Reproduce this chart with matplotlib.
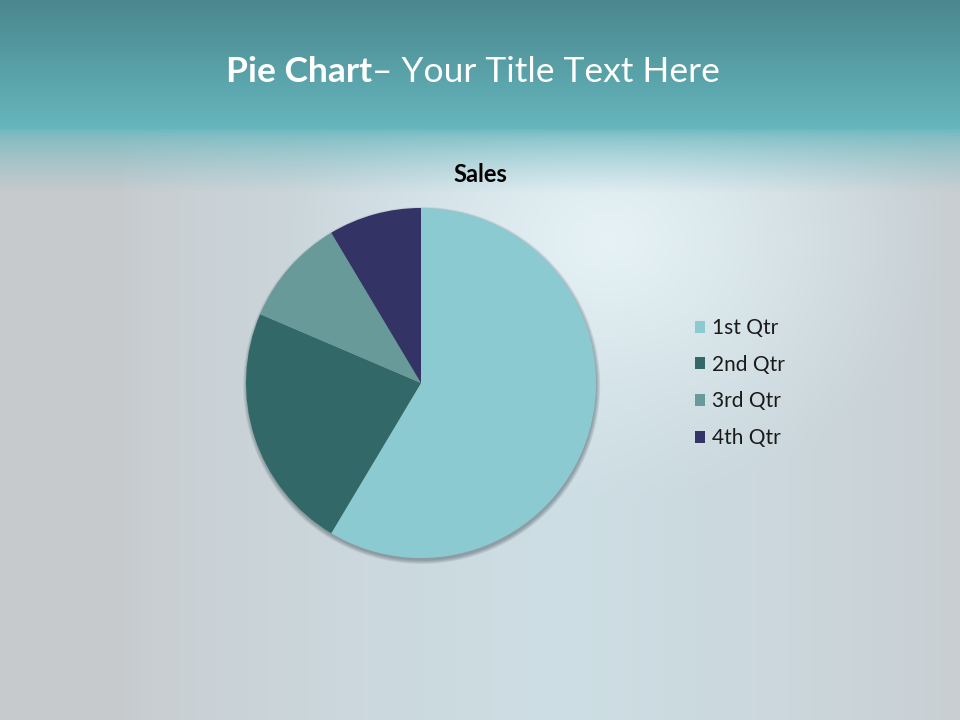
import matplotlib
matplotlib.use('Agg')
import matplotlib.pyplot as plt
import numpy as np
from matplotlib.patches import Circle

# data
labels = ['1st Qtr', '2nd Qtr', '3rd Qtr', '4th Qtr']
sales = [8.2, 3.2, 1.4, 1.2]
colors = ['#8ccad1', '#326868', '#679a99', '#343366']

W, H = 960, 720
plt.rcParams['font.family'] = ['Lato', 'DejaVu Sans']

fig = plt.figure(figsize=(W / 100, H / 100), dpi=100)

# background: teal header band + light bluish wash in the middle
yy, xx = np.mgrid[0:H, 0:W].astype(float)
top0 = np.array([74, 135, 142]) / 255
top1 = np.array([102, 182, 189]) / 255
gray = np.array([199, 202, 205]) / 255
blue = np.array([205, 222, 228]) / 255
glow = np.array([230, 242, 246]) / 255
hx = np.clip(1 - np.abs(xx - 560) / 440, 0, 1) ** 0.6
body = gray * (1 - hx[..., None]) + blue * hx[..., None]
g = np.sqrt(((xx - 610) / 330) ** 2 + ((yy - 240) / 260) ** 2)
gw = (np.clip(1 - g, 0, 1) ** 1.2)[..., None]
body = body * (1 - gw) + glow * gw
t = np.clip(yy / 128, 0, 1)[..., None]
band = top0 * (1 - t) + top1 * t
mix = np.clip((yy - 128) / 65, 0, 1)[..., None] ** 0.6
img = band * (1 - mix) + body * mix
bg = fig.add_axes([0, 0, 1, 1])
bg.imshow(img, aspect='auto', extent=[0, W, H, 0])
bg.set_xlim(0, W)
bg.set_ylim(H, 0)
bg.axis('off')

# title in two weights
t1 = fig.text(226 / W, 1 - 82 / H, 'Pie Chart', color='white', fontsize=25.5,
              fontweight='bold', ha='left', va='baseline')
fig.canvas.draw()
bb = t1.get_window_extent()
fig.text(bb.x1 / W, 1 - 82 / H, '\u2013 Your Title Text Here', color='white',
         fontsize=25.5, ha='left', va='baseline')

fig.text(480 / W, 1 - 175 / H, 'Sales', fontsize=17, fontweight='bold',
         color='black', ha='center', va='center')

# pie
cx, cy, r = 421, 383, 175
ax = fig.add_axes([(cx - r) / W, 1 - (cy + r) / H, 2 * r / W, 2 * r / H])
for k in range(5):
    ax.add_patch(Circle((0.004, -0.014), 1.0 + 0.005 * k, color='#2a3a44',
                        alpha=0.09, lw=0, zorder=0, clip_on=False))
wedges, _ = ax.pie(sales, colors=colors, startangle=90, counterclock=False,
                   wedgeprops=dict(linewidth=0))
ax.set_xlim(-1, 1)
ax.set_ylim(-1, 1)
ax.set_aspect('equal')
ax.axis('off')

fig.legend(wedges, labels, loc='center left',
           bbox_to_anchor=(676 / W, 1 - 383 / H), frameon=False,
           fontsize=15, labelspacing=0.8, handlelength=0.5,
           handleheight=0.5, handletextpad=0.35, labelcolor='#1a1a1a')

fig.savefig('out.png', dpi=100)
